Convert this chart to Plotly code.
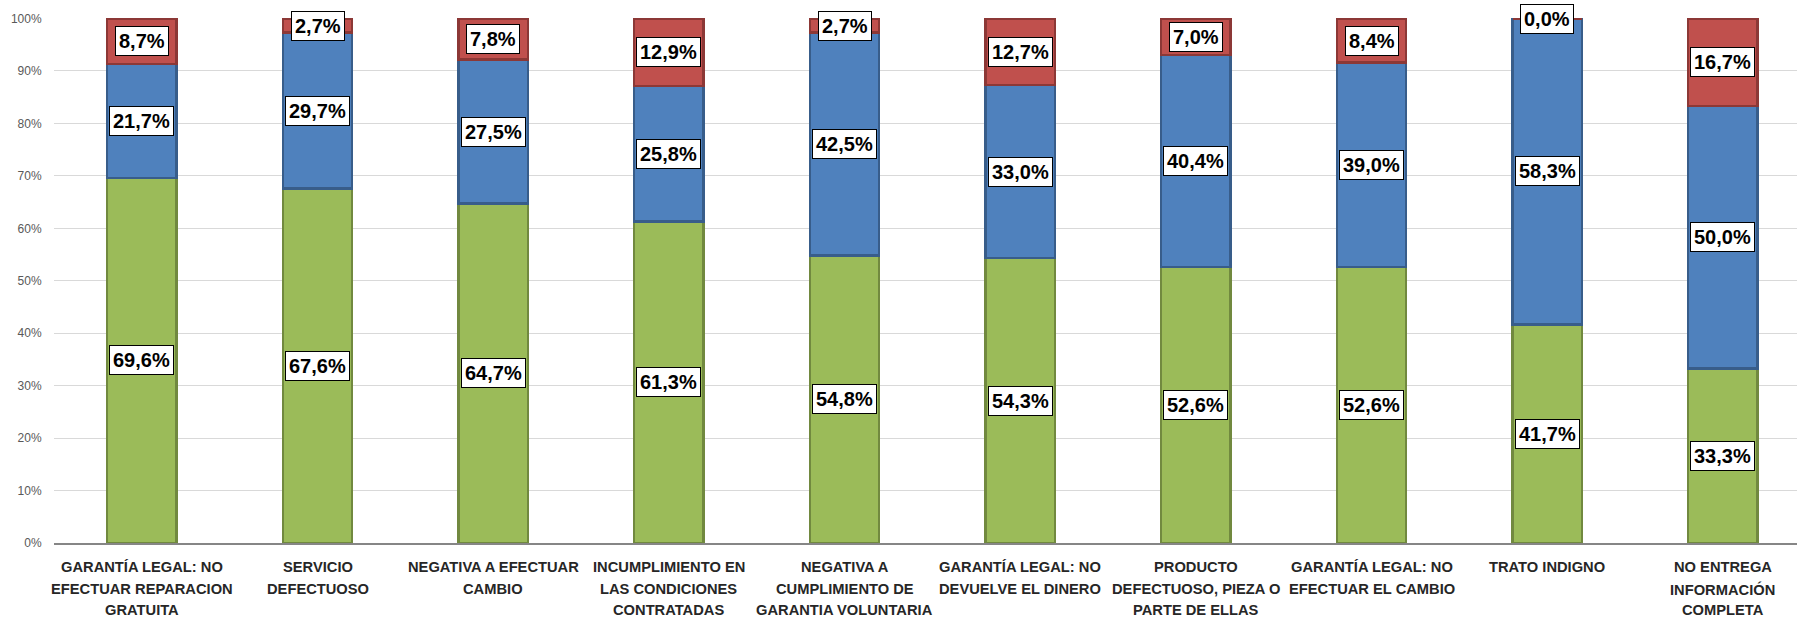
import plotly.graph_objects as go

# Complaint categories (one line of the label per list entry)
categories = [
    ["GARANTÍA LEGAL: NO", "EFECTUAR REPARACION", "GRATUITA"],
    ["SERVICIO", "DEFECTUOSO"],
    ["NEGATIVA A EFECTUAR", "CAMBIO"],
    ["INCUMPLIMIENTO EN", "LAS CONDICIONES", "CONTRATADAS"],
    ["NEGATIVA A", "CUMPLIMIENTO DE", "GARANTIA VOLUNTARIA"],
    ["GARANTÍA LEGAL: NO", "DEVUELVE EL DINERO"],
    ["PRODUCTO", "DEFECTUOSO, PIEZA O", "PARTE DE ELLAS"],
    ["GARANTÍA LEGAL: NO", "EFECTUAR EL CAMBIO"],
    ["TRATO INDIGNO"],
    ["NO ENTREGA", "INFORMACIÓN", "COMPLETA"],
]

# Share of each outcome per category (percent)
green_values = [69.6, 67.6, 64.7, 61.3, 54.8, 54.3, 52.6, 52.6, 41.7, 33.3]
blue_values = [21.7, 29.7, 27.5, 25.8, 42.5, 33.0, 40.4, 39.0, 58.3, 50.0]
red_values = [8.7, 2.7, 7.8, 12.9, 2.7, 12.7, 7.0, 8.4, 0.0, 16.7]

y_ticks = [0, 10, 20, 30, 40, 50, 60, 70, 80, 90, 100]

FONT = "Liberation Sans Narrow, Arial Narrow, Liberation Sans, sans-serif"

x = list(range(len(categories)))

series = [
    (green_values, "#9BBB59", "#71893F"),
    (blue_values, "#4F81BD", "#385D8A"),
    (red_values, "#C0504D", "#8C3836"),
]

fig = go.Figure()
for vals, fill, edge in series:
    fig.add_trace(go.Bar(
        x=x, y=vals, width=0.395,
        marker=dict(color=fill, line=dict(color=edge, width=2.5)),
        hoverinfo="skip", showlegend=False,
    ))


def fmt(v):
    return f"{v:.1f}".replace(".", ",") + "%"


annotations = []
# Value labels centred on each stacked segment
for i in x:
    base = 0.0
    for vals, _, _ in series:
        v = vals[i]
        annotations.append(dict(
            x=i, y=base + v / 2, xref="x", yref="y",
            text=f"<b>{fmt(v)}</b>", showarrow=False,
            font=dict(family=FONT, size=20, color="#000000"),
            bgcolor="#FFFFFF", bordercolor="#000000", borderwidth=1,
            borderpad=3,
        ))
        base += v

# Category labels below the axis, one annotation per text line
LINE_GAP = 21.5
for i, lines in enumerate(categories):
    for j, line in enumerate(lines):
        annotations.append(dict(
            x=i, y=0, xref="x", yref="paper", yanchor="top",
            yshift=-14 - LINE_GAP * j,
            text=f"<b>{line}</b>", showarrow=False,
            font=dict(family=FONT, size=14.7, color="#262626"),
        ))

fig.update_layout(
    width=1797, height=619,
    margin=dict(l=54, r=0, t=18, b=76, pad=0),
    barmode="stack",
    plot_bgcolor="#FFFFFF", paper_bgcolor="#FFFFFF",
    annotations=annotations,
    xaxis=dict(
        range=[-0.5, 9.422], showticklabels=False, showgrid=False,
        zeroline=False, showline=True, linecolor="#868686", linewidth=1.5,
        ticks="",
    ),
    yaxis=dict(
        range=[0, 100.1], tickvals=y_ticks,
        ticktext=[f"{t}%" for t in y_ticks],
        tickfont=dict(family=FONT, size=12, color="#595959"),
        showgrid=True, gridcolor="#D9D9D9", gridwidth=1.3,
        zeroline=False, showline=False,
        ticks="outside", ticklen=9, tickcolor="rgba(0,0,0,0)",
    ),
)

fig.write_html("out.html")
